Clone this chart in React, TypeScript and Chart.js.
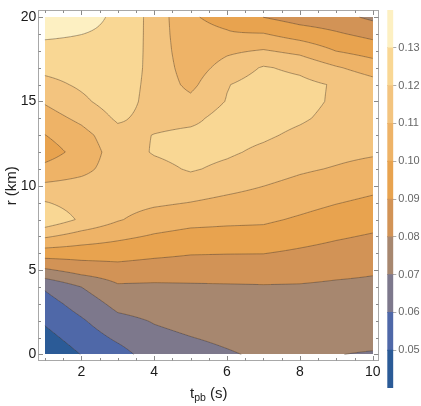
import React, { useEffect, useRef } from 'react';
import { Chart, registerables } from 'chart.js';
Chart.register(...registerables);

// ---- data ----
const tValues = [1, 2, 3, 4, 5, 6, 7, 8, 9, 10];
const rValues = [0, 1, 2, 3, 4, 5, 6, 7, 8, 9, 10, 11, 12, 13, 14, 15, 16, 17, 18, 19, 20];

// value at r = 0..20 for each t column
const z_t1 = [0.0424, 0.0469, 0.0513, 0.0558, 0.0612, 0.0785, 0.0949, 0.1113, 0.1275, 0.1206, 0.1118, 0.1027, 0.0955, 0.0998, 0.1055, 0.111, 0.117, 0.1226, 0.1269, 0.1316, 0.1363];
const z_t2 = [0.0502, 0.0545, 0.0588, 0.0641, 0.07, 0.0838, 0.0945, 0.1058, 0.1185, 0.116, 0.1133, 0.1073, 0.1035, 0.1065, 0.1123, 0.118, 0.1215, 0.1243, 0.1272, 0.1301, 0.133];
const z_t3 = [0.0562, 0.0618, 0.0673, 0.0729, 0.0785, 0.0861, 0.0941, 0.1021, 0.1109, 0.114, 0.1145, 0.1145, 0.115, 0.1165, 0.1215, 0.125, 0.126, 0.1275, 0.128, 0.1283, 0.1285];
const z_t4 = [0.0648, 0.0677, 0.0706, 0.0746, 0.0783, 0.0849, 0.0922, 0.099, 0.1054, 0.1117, 0.1145, 0.117, 0.1208, 0.1203, 0.1165, 0.1162, 0.1165, 0.1165, 0.1165, 0.1165, 0.1165];
const z_t5 = [0.0668, 0.0698, 0.0728, 0.0757, 0.0787, 0.0845, 0.0906, 0.0968, 0.1032, 0.1098, 0.1154, 0.121, 0.1235, 0.1225, 0.1174, 0.1125, 0.1075, 0.105, 0.103, 0.1015, 0.1005];
const z_t6 = [0.0691, 0.0717, 0.0742, 0.0768, 0.079, 0.0844, 0.0903, 0.0964, 0.1022, 0.1076, 0.1128, 0.1178, 0.1215, 0.1235, 0.124, 0.1205, 0.1195, 0.1139, 0.1083, 0.1005, 0.0985];
const z_t7 = [0.0714, 0.0734, 0.0754, 0.0774, 0.0793, 0.0843, 0.0902, 0.0963, 0.1016, 0.1058, 0.1101, 0.1141, 0.118, 0.1215, 0.124, 0.125, 0.1245, 0.1209, 0.1108, 0.1005, 0.0899];
const z_t8 = [0.0725, 0.0742, 0.0759, 0.0776, 0.0793, 0.083, 0.0884, 0.0936, 0.0988, 0.1032, 0.1074, 0.1113, 0.1146, 0.118, 0.1213, 0.1232, 0.1228, 0.1177, 0.1074, 0.0955, 0.0854];
const z_t9 = [0.0702, 0.0723, 0.0745, 0.0766, 0.0787, 0.0818, 0.0865, 0.0911, 0.0958, 0.1004, 0.1049, 0.1093, 0.1125, 0.115, 0.1172, 0.1185, 0.119, 0.111, 0.0998, 0.0912, 0.0835];
const z_t10 = [0.0693, 0.0725, 0.0745, 0.0764, 0.0784, 0.0808, 0.085, 0.0891, 0.0935, 0.098, 0.1025, 0.1069, 0.1112, 0.1135, 0.115, 0.1148, 0.114, 0.1053, 0.0957, 0.0871, 0.078];
const zColumns = [z_t1, z_t2, z_t3, z_t4, z_t5, z_t6, z_t7, z_t8, z_t9, z_t10];

const contourLevels = [0.05, 0.06, 0.07, 0.08, 0.09, 0.1, 0.11, 0.12, 0.13];
const bandLows = [0.04, 0.05, 0.06, 0.07, 0.08, 0.09, 0.1, 0.11, 0.12, 0.13];
const bandHighs = [0.05, 0.06, 0.07, 0.08, 0.09, 0.1, 0.11, 0.12, 0.13, 0.14];
const bandColors = ['#2b5b97', '#4f68a8', '#7d788c', '#a7876f', '#d29356', '#e8a34f', '#eeb367', '#f3c47f', '#f9d794', '#fdf0c2'];

const xTicks = [2, 4, 6, 8, 10];
const yTicks = [0, 5, 10, 15, 20];
const barTicks = [0.05, 0.06, 0.07, 0.08, 0.09, 0.1, 0.11, 0.12, 0.13];

const FONT = '"Liberation Sans", Arial, Helvetica, sans-serif';

function zAt(t: number, r: number): number {
  let i = Math.floor(t - tValues[0]);
  if (i < 0) i = 0;
  if (i > tValues.length - 2) i = tValues.length - 2;
  let j = Math.floor(r - rValues[0]);
  if (j < 0) j = 0;
  if (j > rValues.length - 2) j = rValues.length - 2;
  const fx = t - tValues[i];
  const fy = r - rValues[j];
  const a = zColumns[i][j], b = zColumns[i + 1][j], c = zColumns[i][j + 1], d = zColumns[i + 1][j + 1];
  return a * (1 - fx) * (1 - fy) + b * fx * (1 - fy) + c * (1 - fx) * fy + d * fx * fy;
}

function bandIndex(v: number): number {
  for (let k = 0; k < contourLevels.length; k++) {
    if (v < contourLevels[k]) return k;
  }
  return contourLevels.length;
}

function hexToRgb(h: string): number[] {
  const n = parseInt(h.slice(1), 16);
  return [(n >> 16) & 255, (n >> 8) & 255, n & 255];
}

const contourPlugin = {
  id: 'contourFill',
  beforeDatasetsDraw(chart: any) {
    const { ctx, scales } = chart;
    const xs = scales.x, ys = scales.y;
    const tMin = tValues[0], tMax = tValues[tValues.length - 1];
    const rMin = rValues[0], rMax = rValues[rValues.length - 1];
    const x0 = Math.round(xs.getPixelForValue(tMin));
    const x1 = Math.round(xs.getPixelForValue(tMax));
    const y0 = Math.round(ys.getPixelForValue(rMax));
    const y1 = Math.round(ys.getPixelForValue(rMin));
    const w = x1 - x0, h = y1 - y0;
    const off = document.createElement('canvas');
    off.width = w; off.height = h;
    const octx = off.getContext('2d')!;
    const img = octx.createImageData(w, h);
    const rgbs = bandColors.map(hexToRgb);
    for (let py = 0; py < h; py++) {
      let r = ys.getValueForPixel(y0 + py + 0.5);
      r = Math.max(rMin, Math.min(rMax, r));
      for (let px = 0; px < w; px++) {
        let t = xs.getValueForPixel(x0 + px + 0.5);
        t = Math.max(tMin, Math.min(tMax, t));
        const c = rgbs[bandIndex(zAt(t, r))];
        const k = (py * w + px) * 4;
        img.data[k] = c[0]; img.data[k + 1] = c[1]; img.data[k + 2] = c[2]; img.data[k + 3] = 255;
      }
    }
    octx.putImageData(img, 0, 0);
    ctx.save();
    ctx.drawImage(off, x0, y0);

    // contour lines (marching squares on refined grid)
    const N = 10;
    ctx.strokeStyle = 'rgba(75,60,45,0.5)';
    ctx.lineWidth = 0.9;
    ctx.beginPath();
    for (let i = 0; i < tValues.length - 1; i++) {
      for (let j = 0; j < rValues.length - 1; j++) {
        for (let a = 0; a < N; a++) {
          for (let b = 0; b < N; b++) {
            const ta = tValues[i] + a / N, tb = tValues[i] + (a + 1) / N;
            const ra = rValues[j] + b / N, rb = rValues[j] + (b + 1) / N;
            const v00 = zAt(ta, ra), v10 = zAt(tb, ra), v11 = zAt(tb, rb), v01 = zAt(ta, rb);
            for (const L of contourLevels) {
              const pts: number[][] = [];
              const edge = (va: number, vb: number, pa: number[], pb: number[]) => {
                if ((va < L) !== (vb < L)) {
                  const f = (L - va) / (vb - va);
                  pts.push([pa[0] + f * (pb[0] - pa[0]), pa[1] + f * (pb[1] - pa[1])]);
                }
              };
              edge(v00, v10, [ta, ra], [tb, ra]);
              edge(v10, v11, [tb, ra], [tb, rb]);
              edge(v11, v01, [tb, rb], [ta, rb]);
              edge(v01, v00, [ta, rb], [ta, ra]);
              if (pts.length >= 2) {
                const pairs = pts.length === 4 ? [[0, 1], [2, 3]] : [[0, 1]];
                for (const [p, q] of pairs) {
                  ctx.moveTo(xs.getPixelForValue(pts[p][0]), ys.getPixelForValue(pts[p][1]));
                  ctx.lineTo(xs.getPixelForValue(pts[q][0]), ys.getPixelForValue(pts[q][1]));
                }
              }
            }
          }
        }
      }
    }
    ctx.stroke();
    ctx.restore();
  },
};

const framePlugin = {
  id: 'frameTicks',
  afterDraw(chart: any) {
    const { ctx, chartArea, scales } = chart;
    const xs = scales.x, ys = scales.y;
    const L = chartArea.left, R = chartArea.right, T = chartArea.top, B = chartArea.bottom;
    ctx.save();
    ctx.strokeStyle = '#a8a8a8';
    ctx.lineWidth = 1;
    ctx.strokeRect(Math.round(L) + 0.5, Math.round(T) + 0.5, Math.round(R - L) - 1, Math.round(B - T) - 1);
    ctx.strokeStyle = '#8a8a8a';
    ctx.beginPath();
    for (let v = 1; v <= 10.001; v += 0.5) {
      const major = xTicks.some((m) => Math.abs(m - v) < 1e-6);
      const len = major ? 4.5 : 2.5;
      const px = Math.round(xs.getPixelForValue(v)) + 0.5;
      ctx.moveTo(px, Math.round(B) - 0.5); ctx.lineTo(px, Math.round(B) - 0.5 - len);
      ctx.moveTo(px, Math.round(T) + 0.5); ctx.lineTo(px, Math.round(T) + 0.5 + len);
    }
    for (let v = 0; v <= 20.001; v += 1) {
      const major = yTicks.some((m) => Math.abs(m - v) < 1e-6);
      const len = major ? 4.5 : 2.5;
      const py = Math.round(ys.getPixelForValue(v)) + 0.5;
      ctx.moveTo(Math.round(L) + 0.5, py); ctx.lineTo(Math.round(L) + 0.5 + len, py);
      ctx.moveTo(Math.round(R) - 0.5, py); ctx.lineTo(Math.round(R) - 0.5 - len, py);
    }
    ctx.stroke();

    // x-axis title with subscript
    const cx = (L + R) / 2;
    const base = 397.5;
    ctx.fillStyle = '#222';
    ctx.textBaseline = 'alphabetic';
    ctx.textAlign = 'left';
    const big = `15px ${FONT}`, small = `10.5px ${FONT}`;
    ctx.font = big;
    const w1 = ctx.measureText('t').width;
    const w3 = ctx.measureText(' (s)').width;
    ctx.font = small;
    const w2 = ctx.measureText('pb').width;
    let x = cx - (w1 + w2 + w3) / 2;
    ctx.font = big; ctx.fillText('t', x, base); x += w1;
    ctx.font = small; ctx.fillText('pb', x, base + 3.5); x += w2;
    ctx.font = big; ctx.fillText(' (s)', x, base);
    ctx.restore();
  },
};

export default function App() {
  const mainRef = useRef<HTMLCanvasElement>(null);
  const barRef = useRef<HTMLCanvasElement>(null);

  useEffect(() => {
    const gridPoints: { x: number; y: number }[] = [];
    tValues.forEach((t) => rValues.forEach((r) => gridPoints.push({ x: t, y: r })));

    const main = new Chart(mainRef.current!, {
      type: 'scatter',
      data: { datasets: [{ data: gridPoints, pointRadius: 0, pointHoverRadius: 0, showLine: false }] },
      options: {
        animation: false,
        responsive: false,
        events: [],
        layout: { padding: { top: 3.4, right: 4.7, left: 0, bottom: 0 } },
        plugins: { legend: { display: false }, tooltip: { enabled: false } },
        scales: {
          x: {
            type: 'linear',
            min: 0.82,
            max: 10.18,
            afterBuildTicks: (s: any) => { s.ticks = xTicks.map((v) => ({ value: v })); },
            afterFit: (s: any) => { s.height = 44.8; },
            ticks: { font: { family: FONT, size: 14 }, color: '#1a1a1a', padding: 3, maxRotation: 0, callback: (v: any) => String(v) },
            grid: { display: false, drawTicks: false },
            border: { display: false },
          },
          y: {
            type: 'linear',
            min: -0.4,
            max: 20.4,
            afterBuildTicks: (s: any) => { s.ticks = yTicks.map((v) => ({ value: v })); },
            afterFit: (s: any) => { s.width = 38.3; },
            ticks: { font: { family: FONT, size: 14 }, color: '#1a1a1a', padding: 2, callback: (v: any) => String(v) },
            grid: { display: false, drawTicks: false },
            border: { display: false },
            title: { display: true, text: 'r (km)', font: { family: FONT, size: 15 }, color: '#222', padding: { top: 2.5, bottom: 0 } },
          },
        },
      },
      plugins: [contourPlugin, framePlugin],
    } as any);

    const bar = new Chart(barRef.current!, {
      type: 'bar',
      data: {
        labels: [''],
        datasets: bandColors.map((c, i) => ({
          data: [[bandLows[i], bandHighs[i]]],
          backgroundColor: c,
          borderWidth: 0,
          barPercentage: 1,
          categoryPercentage: 1,
          grouped: false,
        })),
      },
      options: {
        animation: false,
        responsive: false,
        events: [],
        layout: { padding: { left: 3.3, top: 10, bottom: 18, right: 0 } },
        plugins: { legend: { display: false }, tooltip: { enabled: false } },
        scales: {
          x: { display: false },
          y: {
            position: 'right',
            min: 0.04,
            max: 0.14,
            z: 1,
            afterBuildTicks: (s: any) => { s.ticks = barTicks.map((v) => ({ value: v })); },
            afterFit: (s: any) => { s.width = 27.7; },
            ticks: { font: { family: FONT, size: 11 }, color: '#666', padding: 2, callback: (v: any) => Number(v).toFixed(2) },
            grid: { color: 'rgba(90,90,90,0.5)', tickLength: 3, drawOnChartArea: true, lineWidth: 1 },
            border: { display: false },
          },
        },
      },
    } as any);

    return () => { main.destroy(); bar.destroy(); };
  }, []);

  return (
    <div style={{ position: 'absolute', left: 0, top: 0, width: 421, height: 406, background: '#fff' }}>
      <canvas ref={mainRef} width={384} height={406} style={{ position: 'absolute', left: 0, top: 0 }} />
      <canvas ref={barRef} width={37} height={406} style={{ position: 'absolute', left: 384, top: 0 }} />
    </div>
  );
}
